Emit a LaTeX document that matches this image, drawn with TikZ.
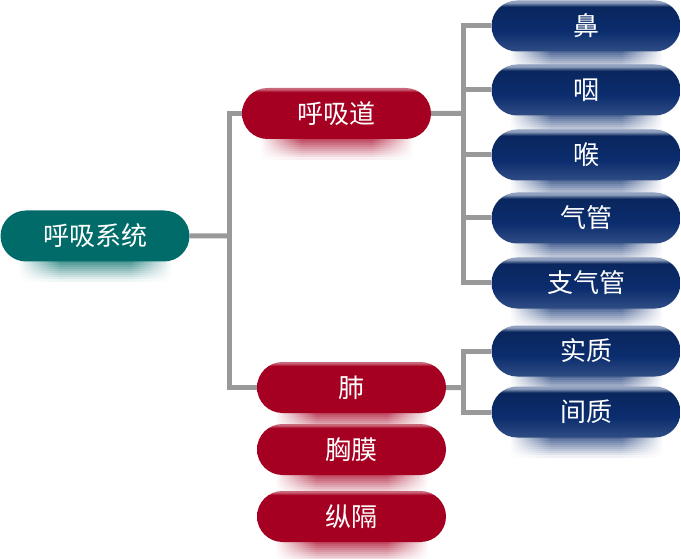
\documentclass[tikz,border=0pt]{standalone}
\usepackage{fontspec}
\newfontfamily\cjk{Noto Sans CJK SC}
\usepackage{tikz}
\usetikzlibrary{shapes.misc,backgrounds}

\definecolor{sysgreen}{HTML}{006B68}
\definecolor{partred}{HTML}{A50021}
\definecolor{organblue}{HTML}{0B2D6E}
\definecolor{linegray}{HTML}{999999}
\colorlet{mirrorc}{white}

\pgfdeclareverticalshading{organshade}{100bp}{color(0bp)=(organblue!85!white); color(25bp)=(organblue!85!white); color(45bp)=(organblue); color(69bp)=(organblue!85!black); color(73bp)=(organblue!45!white); color(75bp)=(organblue!45!white); color(100bp)=(organblue!45!white)}
\pgfdeclareverticalshading{partshade}{100bp}{color(0bp)=(partred); color(25bp)=(partred); color(71bp)=(partred); color(74bp)=(partred!60!white); color(75bp)=(partred!60!white); color(100bp)=(partred!60!white)}
\pgfdeclarehorizontalshading[mirrorc]{mirrorshade}{100bp}{color(0bp)=(white); color(26bp)=(white); color(39bp)=(mirrorc); color(61bp)=(mirrorc); color(74bp)=(white); color(100bp)=(white)}

\newcommand{\mirror}[2]{% node, colour
\foreach \k in {0,...,9} {
  \pgfmathsetmacro{\amt}{70*(1-\k/10)}
  \colorlet{mirrorc}{#2!\amt!white}
  \path[shading=mirrorshade]
    ([xshift=-80pt,yshift=-2*\k pt]#1.south) rectangle ([xshift=80pt,yshift=-2*\k pt-2.2pt]#1.south);}}

\begin{document}
\begin{tikzpicture}[x=1pt,y=-1pt,
  box/.style={rounded rectangle, minimum width=189pt, minimum height=51pt, inner sep=0pt,
    text=white, font=\cjk\fontsize{26}{30}\selectfont},
  sysbox/.style={box, fill=sysgreen},
  partbox/.style={box, shading=partshade},
  organbox/.style={box, shading=organshade},
  conn/.style={draw=linegray, line width=5pt}]
\useasboundingbox (0,0) rectangle (681,559);

\node[sysbox] (xitong) at (95,236) {呼吸系统};
\node[partbox] (dao) at (336.5,113.5) {呼吸道};
\node[partbox] (fei) at (351.5,387.5) {肺};
\node[partbox] (xiongmo) at (351.5,449.5) {胸膜};
\node[partbox] (zongge) at (351.5,516.5) {纵隔};

\node[organbox] (bi) at (586,26) {鼻};
\node[organbox] (yan) at (586,90) {咽};
\node[organbox] (hou) at (586,155) {喉};
\node[organbox] (qiguan) at (586,218) {气管};
\node[organbox] (zhiqiguan) at (586,283) {支气管};
\node[organbox] (shizhi) at (586,351) {实质};
\node[organbox] (jianzhi) at (586,412) {间质};

% reflections
\begin{scope}[on background layer]
\mirror{xitong}{sysgreen}
\foreach \n in {dao,fei,xiongmo,zongge} {\mirror{\n}{partred}}
\foreach \n in {bi,yan,hou,qiguan,zhiqiguan,shizhi,jianzhi} {\mirror{\n}{organblue}}
\end{scope}

% connectors
\coordinate (jxitong) at (229.5,236);
\coordinate (jdao) at (463.5,113.5);
\coordinate (jfei) at (463.5,387.5);
\begin{scope}[on background layer]
\path[conn] (xitong) -- (jxitong);
\path[conn] (jxitong) |- (dao);
\path[conn] (jxitong) |- (fei);
\path[conn] (dao) -- (jdao);
\foreach \n in {bi,yan,hou,qiguan,zhiqiguan} {\path[conn] (jdao) |- (\n);}
\path[conn] (fei) -- (jfei);
\path[conn] (jfei) |- (shizhi);
\path[conn] (jfei) |- (jianzhi);
\end{scope}
\end{tikzpicture}
\end{document}
